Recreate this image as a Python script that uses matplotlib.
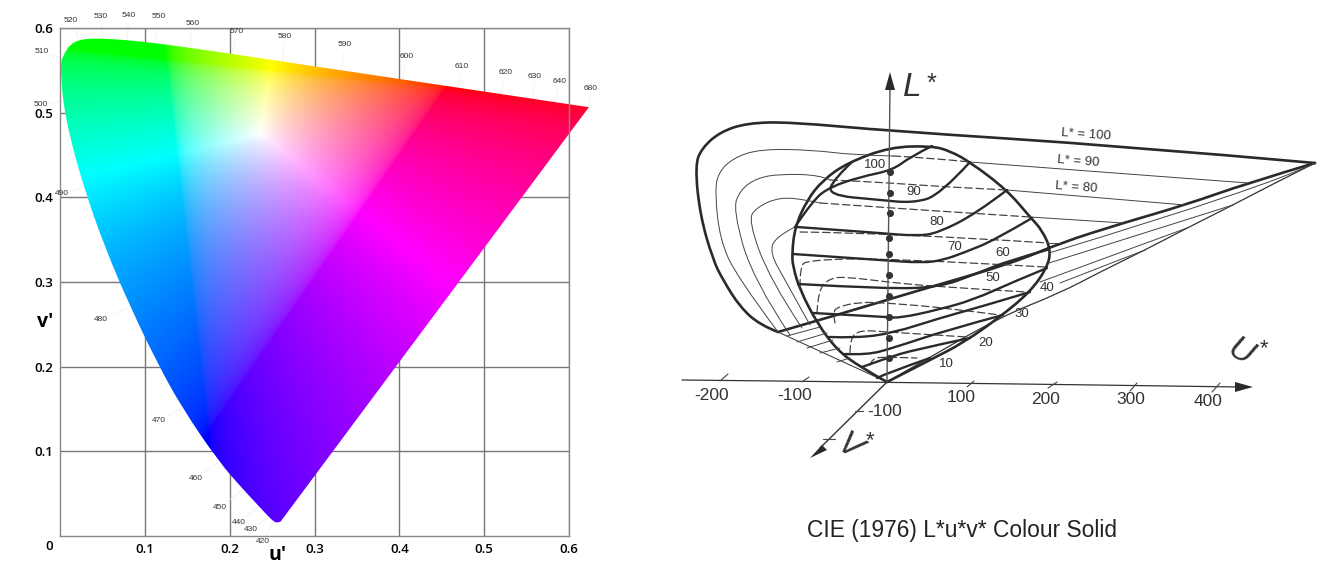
import numpy as np
import matplotlib
matplotlib.use("Agg")
from matplotlib import pyplot as plt
from matplotlib.path import Path
from matplotlib.patches import PathPatch, Polygon

plt.rcParams['font.family'] = ['Liberation Sans', 'DejaVu Sans']

# ---- left panel: u'v' diagram
locus_u = [0.2600, 0.2565, 0.2522, 0.2461, 0.2346, 0.2161, 0.1877, 0.1441, 0.1147, 0.0828, 0.0521, 0.0282, 0.0119,
           0.0035, 0.0014, 0.0010, 0.0046, 0.0123, 0.0231, 0.0360, 0.0501, 0.0792, 0.1127, 0.1531, 0.2026, 0.2623,
           0.4035, 0.5203, 0.6005, 0.6234]
locus_v = [0.0170, 0.0155, 0.0169, 0.0226, 0.0350, 0.0549, 0.0871, 0.1510, 0.2044, 0.2708, 0.3427, 0.4117, 0.4699,
           0.5131, 0.5432, 0.5600, 0.5690, 0.5810, 0.5860, 0.5875, 0.5875, 0.5857, 0.5821, 0.5766, 0.5694, 0.5604,
           0.5393, 0.5219, 0.5099, 0.5065]
prim_r = (0.454, 0.530)
prim_g = (0.126, 0.563)
prim_b = (0.175, 0.125)
white = (0.236, 0.476)

tick_vals = [0.1, 0.2, 0.3, 0.4, 0.5, 0.6]
tick_text = ['0.1', '0.2', '0.3', '0.4', '0.5', '0.6']

wave_text = ['520', '530', '540', '550', '560', '570', '580', '590', '600', '610', '620', '630', '640', '680',
             '510', '500', '490', '480', '470', '460', '450', '440', '430', '420']
wave_u = [0.013, 0.048, 0.081, 0.116, 0.156, 0.208, 0.265, 0.336, 0.409, 0.474, 0.525, 0.560, 0.589, 0.626,
          -0.022, -0.023, 0.002, 0.048, 0.116, 0.160, 0.188, 0.211, 0.225, 0.239]
wave_v = [0.609, 0.613, 0.615, 0.613, 0.605, 0.596, 0.590, 0.580, 0.566, 0.555, 0.548, 0.543, 0.537, 0.529,
          0.572, 0.510, 0.404, 0.256, 0.137, 0.068, 0.034, 0.016, 0.008, -0.007]
lead_u = [0.0231, 0.0501, 0.0792, 0.1127, 0.1531, 0.2026, 0.2623, 0.3315, 0.4035, 0.4692, 0.5203, 0.5566, 0.5830, 0.6234,
          0.0046, 0.0035, 0.0282, 0.0828, 0.1441, 0.1877, 0.2161, 0.2346, 0.2461, 0.2522]
lead_v = [0.5837, 0.5868, 0.5857, 0.5821, 0.5766, 0.5694, 0.5604, 0.5501, 0.5393, 0.5296, 0.5219, 0.5165, 0.5125, 0.5065,
          0.5638, 0.5131, 0.4117, 0.2708, 0.1510, 0.0871, 0.0549, 0.0350, 0.0226, 0.0169]

# ---- right panel: sketch, all read in picture pixels
solid = [(887,382),(930,360),(963,343),(1000,317),(1030,292),(1047,268),(1051,250),(1042,230),(1030,217),(1007,190),
         (970,162),(950,151),(932,146),(890,147),(847,163),(823,180),(807,200),(795,227),(792,253),(793,267),
         (800,290),(817,323),(837,350),(860,367),(887,382)]
outline = [(1315,163),(1123,146),(890,131),(790,122),(747,123),(720,132),(702,148),(695,165),(700,215),(713,260),
           (723,280),(740,307),(760,325),(778,332)]
outline_low = [(778,332),(837,315),(920,290),(1013,263),(1060,243),(1123,223),(1185,205),(1248,183),(1315,163)]
bottom_left = [(778,332),(887,382)]
bottom_right = [(887,382),(920,363),(1000,317),(1060,293),(1100,272),(1145,250),(1187,228),(1233,205),(1267,187),(1315,163)]

front_lines = [
    [(932,146),(910,157),(893,170),(860,177),(830,187),(813,200),(795,227)],
    [(970,162),(940,195),(913,203),(880,200),(827,195),(835,178),(852,162)],
    [(1007,190),(977,213),(938,233),(917,236),(880,233),(797,227)],
    [(1032,218),(995,240),(963,253),(943,260),(923,263),(880,260),(793,254)],
    [(1047,250),(1010,260),(973,275),(940,287),(887,289),(798,284)],
    [(1047,268),(1013,282),(973,300),(937,310),(900,318),(887,317),(813,313)],
    [(1030,292),(980,307),(940,318),(893,333),(857,338),(829,337)],
    [(1003,315),(947,330),(893,348),(867,355),(845,354)],
    [(970,338),(913,350),(887,358),(862,367)],
    [(930,358),(887,373),(877,378)],
]
back_lines = [
    [(893,156),(932,158),(970,162)],
    [(830,180),(853,181),(890,183),(947,187),(1007,190)],
    [(820,203),(890,208),(1030,217)],
    [(800,232),(890,233),(1049,243)],
    [(800,287),(800,267),(807,260),(887,258),(1045,267)],
    [(817,313),(818,290),(830,278),(847,277),(887,282),(940,287),(1027,292)],
    [(835,323),(833,313),(837,307),(860,302),(887,303),(947,308),(1000,315)],
    [(850,353),(850,338),(860,330),(887,332),(967,337)],
    [(870,365),(872,358),(887,357),(917,358)],
]
thin_lines = [
    [(778,332),(737,277),(720,240),(715,193),(718,173),(733,158),(760,149),(813,150),(853,155),(893,156)],
    [(790,335),(753,280),(733,210),(740,190),(757,178),(780,174),(820,175),(830,180)],
    [(802,328),(770,280),(748,220),(757,207),(780,197),(807,200),(820,203)],
    [(810,325),(785,280),(770,253),(775,237),(795,227)],
    [(970,162),(1100,172),(1248,183)],
    [(1007,190),(1185,205)],
    [(1030,217),(1123,223)],
    [(1049,243),(1060,243)],
    [(1049,253),(1267,187),(1315,163)],
    [(1049,263),(1233,205)],
    [(1040,282),(1187,228)],
    [(1060,283),(1145,250)],
    [(787,336),(820,327)],
    [(797,342),(827,333)],
    [(807,348),(833,340)],
    [(820,353),(840,348)],
    [(837,362),(850,358)],
]
dots_x = [890, 890, 890, 889, 889, 889, 889, 889, 889, 889]
dots_y = [172, 193, 213, 238, 254, 275, 296, 317, 338, 358]

u_axis = [(682,380),(887,382),(1240,387)]
u_ticks = [[(720,381),(728,374)],[(802,382),(809,377)],[(967,387),(974,381)],
           [(1048,388),(1057,382)],[(1130,391),(1137,383)],[(1212,392),(1220,383)]]
v_ticks = [[(855,411),(863,411)],[(823,439),(835,439)]]

u_text = ['-200', '-100', '100', '200', '300', '400']
u_text_x = [712, 795, 961, 1046, 1131, 1208]
u_text_y = [395, 396, 398, 399, 400, 401]
l_text = ['100', '90', '80', '70', '60', '50', '40', '30', '20', '10']
l_text_x = [875, 914, 937, 955, 1003, 993, 1047, 1022, 986, 946]
l_text_y = [165, 192, 222, 247, 253, 278, 288, 314, 343, 364]
plane_text = ['L* = 100', 'L* = 90', 'L* = 80']
plane_x = [1086, 1078, 1076]
plane_y = [135, 161, 187]


def curve(pts):
    # quadratic segments, the read points act as control points
    pts = np.array(pts, dtype=float)
    if len(pts) < 3:
        return Path(pts)
    verts = [pts[0]]
    codes = [Path.MOVETO]
    for i in range(1, len(pts) - 1):
        end = pts[-1] if i == len(pts) - 2 else (pts[i] + pts[i + 1]) / 2
        verts += [pts[i], end]
        codes += [Path.CURVE3, Path.CURVE3]
    return Path(verts, codes)


def uv_to_xyz(u, v):
    return np.array([9 * u / (4 * v), np.ones_like(u), (12 - 3 * u - 20 * v) / (4 * v)])


W, H = 1338, 581
fig = plt.figure(figsize=(13.38, 5.81), dpi=100, facecolor='white')

# left panel
ax = fig.add_axes([60 / W, 1 - 536 / H, 509 / W, 508 / H])
ax.set_xticks(tick_vals)
ax.set_xticklabels(tick_text)
ax.set_yticks(tick_vals)
ax.set_yticklabels(tick_text)
ax.tick_params(length=0, pad=5)
for lab in ax.get_xticklabels() + ax.get_yticklabels():
    lab.set_family(['Open Sans', 'DejaVu Sans'])
    lab.set_fontweight('semibold')
    lab.set_fontsize(9.5)
ax.grid(color='#777777', lw=1.0)
ax.set_axisbelow(True)
for s in ax.spines.values():
    s.set_color('#888888')
    s.set_linewidth(1.0)

uu, vv = np.meshgrid(np.linspace(-0.002, 0.63, 900), np.linspace(0.005, 0.6, 850))
P = np.column_stack([uv_to_xyz(*map(np.array, p)) for p in (prim_r, prim_g, prim_b)])
S = np.linalg.solve(P, uv_to_xyz(*map(np.array, white)))
M_inv = np.linalg.inv(P * S)
rgb = np.tensordot(M_inv, uv_to_xyz(uu, vv), axes=1)
rgb = np.clip(rgb, 0, None)
rgb = rgb / rgb.max(axis=0)
rgb = np.moveaxis(rgb ** (1 / 2.2), 0, -1)

im = ax.imshow(rgb, origin='lower', extent=(-0.002, 0.63, 0.005, 0.6), aspect='auto', interpolation='bilinear', zorder=2)
ax.set_xlim(0, 0.6)
ax.set_ylim(0, 0.6)
edge = curve(np.column_stack([locus_u, locus_v]))
shape = Path(np.vstack([edge.vertices, edge.vertices[0]]), list(edge.codes) + [Path.LINETO])
im.set_clip_box(fig.bbox)
im.set_clip_path(shape, ax.transData)

for a, b, c, d in zip(wave_u, wave_v, lead_u, lead_v):
    ax.plot([a + (c - a) * 0.35, c], [b + (d - b) * 0.35, d], color='#eeeeee', lw=0.5, clip_on=False, zorder=1)
for t, a, b in zip(wave_text, wave_u, wave_v):
    ax.text(a, b, t, fontsize=6, color='#333333', ha='center', va='center', clip_on=False,
            family=['Liberation Sans Narrow', 'Liberation Sans'])
ax.text(-0.018, 0.253, "v\u2032", fontsize=14, fontweight='bold', ha='center', va='center',
        family=['Open Sans', 'DejaVu Sans'], clip_on=False)
ax.text(0.257, -0.023, "u\u2032", fontsize=14, fontweight='bold', ha='center', va='center',
        family=['Open Sans', 'DejaVu Sans'], clip_on=False)
ax.text(-0.013, -0.012, "0", fontsize=9.5, fontweight='semibold', ha='center', va='center',
        family=['Open Sans', 'DejaVu Sans'], clip_on=False)

# right panel
sk = fig.add_axes([0, 0, 1, 1], facecolor='none')
sk.set_xlim(0, W)
sk.set_ylim(H, 0)
sk.axis('off')


def draw(pts, lw, color='#2a2a2a', ls='-', z=3):
    sk.add_patch(PathPatch(curve(pts), fc='none', ec=color, lw=lw, ls=ls, zorder=z, capstyle='round'))


draw(outline, 1.9)
draw(outline_low, 1.9)
draw(bottom_left, 0.8, '#444444')
draw(bottom_right, 0.9, '#333333')
draw(solid, 1.9)
for line in thin_lines:
    draw(line, 0.7, '#444444')
for line in back_lines:
    draw(line, 0.9, '#444444', ls=(0, (6, 3)))
for line in front_lines:
    draw(line, 1.7)

draw(u_axis, 0.9, '#333333')
draw([(887, 382), (890, 85)], 1.0, '#555555')
draw([(887, 382), (820, 448)], 1.0, '#333333')
for line in u_ticks + v_ticks:
    draw(line, 0.8, '#444444')
sk.add_patch(Polygon([(890, 72), (885, 90), (895, 90)], fc='#2a2a2a', ec='none', zorder=4))
sk.add_patch(Polygon([(1253, 387), (1235, 382), (1235, 392)], fc='#2a2a2a', ec='none', zorder=4))
sk.add_patch(Polygon([(810, 458), (822, 445), (827, 450)], fc='#2a2a2a', ec='none', zorder=4))
sk.scatter(dots_x, dots_y, s=26, color='#333333', zorder=5, linewidths=0)

for t, a, b in zip(u_text, u_text_x, u_text_y):
    sk.text(a, b, t, fontsize=12.5, color='#333333', ha='center', va='center')
sk.text(885, 411, '-100', fontsize=12.5, color='#333333', ha='center', va='center')
for t, a, b in zip(l_text, l_text_x, l_text_y):
    sk.text(a, b, t, fontsize=9.5, color='#333333', ha='center', va='center', zorder=6)
for t, a, b in zip(plane_text, plane_x, plane_y):
    sk.text(a, b, t, fontsize=9.5, color='#333333', ha='center', va='center', rotation=-4)

sk.text(912, 87, 'L', fontsize=24, style='italic', color='#333333', ha='center', va='center')
sk.text(930, 84, '*', fontsize=18, style='italic', color='#333333', ha='center', va='center')
sk.text(1240, 353, 'U', fontsize=24, style='italic', color='#333333', ha='center', va='center', rotation=-30)
sk.text(1263, 349, '*', fontsize=16, style='italic', color='#333333', ha='center', va='center')
sk.text(848, 447, 'V', fontsize=24, style='italic', color='#333333', ha='center', va='center', rotation=-35)
sk.text(869, 441, '*', fontsize=16, style='italic', color='#333333', ha='center', va='center')
sk.text(962, 530, 'CIE (1976) L*u*v* Colour Solid', fontsize=16.4, color='#222222', ha='center', va='center')

fig.savefig('out.png', dpi=100)
